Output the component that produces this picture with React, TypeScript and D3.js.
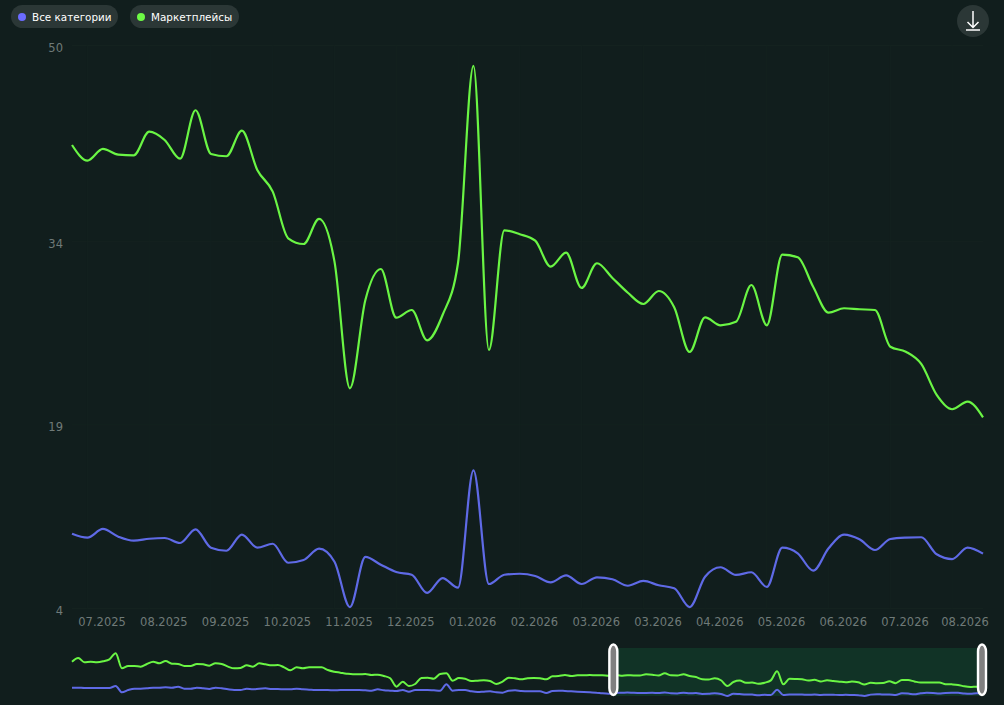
import React from "react";
import * as d3 from "d3";

const greenMain = [41.87,40.59,41.55,41.08,41.03,42.96,42.28,40.75,44.71,41.14,40.95,43.04,39.83,38.06,34.25,33.78,35.83,32.34,21.99,29.21,31.74,27.76,28.39,25.91,27.98,32.23,48.33,25.12,34.9,34.58,34.05,31.93,33.07,30.19,32.21,31.01,29.8,28.88,29.94,28.61,24.96,27.79,27.14,27.43,30.43,27.14,32.91,32.7,30.29,28.17,28.53,28.45,28.39,25.39,24.98,23.98,21.45,20.28,20.9,19.62];
const blueMain = [10.11,9.79,10.5,9.87,9.54,9.7,9.76,9.35,10.47,8.97,8.72,10.03,8.97,9.29,7.74,7.96,8.89,7.82,4.12,8.21,7.58,6.98,6.76,5.27,6.49,5.7,15.29,6,6.76,6.84,6.66,6.14,6.71,6,6.55,6.39,5.86,6.25,5.9,5.65,4.12,6.6,7.37,6.74,6.96,5.76,8.97,8.51,7.09,8.92,10.03,9.65,8.78,9.68,9.79,9.82,8.43,8.04,8.97,8.48];
const greenEarlier = [65.76,72.34,64.56,65.76,64.56,66.35,69.94,80.72,53.79,57.98,57.98,56.78,61.57,65.76,62.76,66.95,62.16,61.57,57.98,57.98,61.57,60.97,58.57,62.76,61.57,56.78,53.79,54.39,59.17,56.78,62.76,60.97,59.17,59.77,55.58,50.2,55.58,53.79,55.58,55.58,55.58,50.8,47.8,46.01,44.21,43.02,43.02,43.61,41.82,42.42,40.02,35.84,20.88,29.85,22.07,25.66,36.43,37.03,35.24,43.61,44.81,31.65,36.43,35.24,31.05,31.65,32.24,31.05,25.66,29.85,37.03,35.84,34.04,35.84,36.43,35.84,34.04,39.43,40.02,41.82,40.02,41.22,41.22,41.82,41.22,41.22,40.62];
const blueEarlier = [19.08,19.08,18.48,18.48,18.48,18.48,18.48,22.07,10.7,14.89,17.28,17.28,17.88,19.08,19.08,19.68,19.08,20.88,17.28,17.28,19.08,17.88,16.69,19.08,17.88,16.09,14.89,14.89,17.28,16.09,17.28,17.88,16.69,16.69,16.09,16.09,17.28,16.09,15.49,14.89,14.89,14.89,14.29,14.89,14.89,14.89,14.89,14.29,13.69,16.09,14.29,13.69,13.1,14.89,11.9,14.89,14.89,14.89,14.29,13.69,25.06,13.69,14.89,14.89,12.5,11.3,11.9,12.5,10.7,10.1,13.69,14.29,13.1,12.5,12.5,12.5,9.51,13.1,13.69,13.1,12.5,11.9,11.3,10.7,10.1,8.91,8.31];
const xLabels = ["07.2025","08.2025","09.2025","10.2025","11.2025","12.2025","01.2026","02.2026","03.2026","03.2026","04.2026","05.2026","06.2026","07.2026","08.2026"];
const yTicks = [4,19,34,50];
const legendNames = ["Все категории","Маркетплейсы"];
const colors = { bg:"#111e1d", green:"#6af544", blue:"#5f6ae6", text:"#6f7a78", grid:"#14221f", pill:"#2b3736", zone:"#113326" };
const font = "'DejaVu Sans', Verdana, sans-serif";

export default function App() {
  const idx = greenMain.map((_, i) => i);
  const x = d3.scaleLinear().domain([0, greenMain.length - 1]).range([72, 983]);
  const y = d3.scaleLinear().domain([4, 50]).range([608.5, 45.5]);
  const main = d3.line<number>().x((_, i) => x(i)).y(d => y(d)).curve(d3.curveMonotoneX);

  const greenAll = [...greenEarlier, ...greenMain];
  const blueAll = [...blueEarlier, ...blueMain];
  const xo = d3.scaleLinear().domain([0, greenAll.length - 1]).range([72, 983]);
  const yo = d3.scaleLinear().domain([4.12, 80.72]).range([696, 653.3]);
  const over = d3.line<number>().x((_, i) => xo(i)).y(d => yo(d)).curve(d3.curveMonotoneX);
  const h0 = xo(greenEarlier.length) - 1.5;
  const h1 = xo(greenAll.length - 1) - 1;

  const labelIdx = xLabels.map((_, i) => 2 + i * 4);
  const gridIdx = idx.filter(i => i % 4 === 1);

  return (
    <svg width={1004} height={705} style={{ position: "fixed", left: 0, top: 0, background: colors.bg, fontFamily: font }}>
      <rect width={1004} height={705} fill={colors.bg} />
      {yTicks.map(t => <line key={t} x1={72} x2={983} y1={y(t)} y2={y(t)} stroke={colors.grid} />)}
      {gridIdx.map(i => <line key={i} x1={x(i)} x2={x(i)} y1={45.5} y2={608.5} stroke={colors.grid} strokeWidth={0.7} />)}
      {yTicks.map(t => <text key={t} x={63} y={y(t) + 6.2} textAnchor="end" fontSize={11.5} fill={colors.text}>{t}</text>)}
      {labelIdx.map((p, i) => (
        <text key={i} x={i === labelIdx.length - 1 ? x(p) - 2.5 : x(p) - 0.8} y={626} textAnchor="middle" fontSize={11.5} fill={colors.text}>{xLabels[i]}</text>
      ))}
      <path d={main(greenMain) ?? ""} fill="none" stroke={colors.green} strokeWidth={2.2} />
      <path d={main(blueMain) ?? ""} fill="none" stroke={colors.blue} strokeWidth={2.2} />

      <rect x={h0} y={648} width={h1 - h0} height={48} fill={colors.zone} />
      <path d={over(greenAll) ?? ""} fill="none" stroke={colors.green} strokeWidth={2} />
      <path d={over(blueAll) ?? ""} fill="none" stroke={colors.blue} strokeWidth={2} />
      {[h0, h1].map(h => (
        <rect key={h} x={h - 4} y={644.5} width={8} height={50.5} rx={4} ry={7} fill="#808080" stroke="#ffffff" strokeWidth={2.4} />
      ))}

      <rect x={11} y={5} width={107} height={23} rx={11.5} fill={colors.pill} />
      <circle cx={22} cy={17} r={4} fill="#6b6bff" />
      <text x={32} y={20.6} fontSize={10.4} fill="#ffffff">{legendNames[0]}</text>
      <rect x={130} y={5} width={109} height={23} rx={11.5} fill={colors.pill} />
      <circle cx={141} cy={17} r={4} fill="#6dfa45" />
      <text x={151} y={20.6} fontSize={10.4} fill="#ffffff">{legendNames[1]}</text>

      <circle cx={973} cy={21} r={16} fill={colors.pill} />
      <path d="M973 11V27.5M967.5 22L973 27.5L978.5 22M966 30H980" fill="none" stroke="#ffffff" strokeWidth={1.5} />
    </svg>
  );
}
